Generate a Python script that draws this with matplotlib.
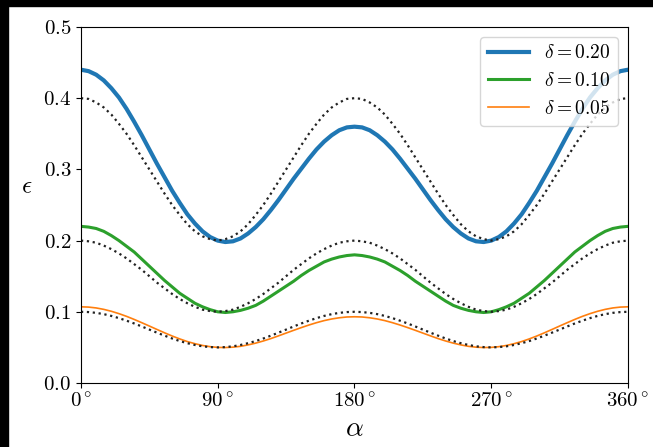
import matplotlib
matplotlib.use("Agg")
import matplotlib.pyplot as plt
from matplotlib.patches import Rectangle

plt.rcParams['mathtext.fontset'] = 'cm'
plt.rcParams['font.family'] = 'serif'
plt.rcParams['font.serif'] = ['cmr10', 'DejaVu Serif']
plt.rcParams['axes.formatter.use_mathtext'] = True

# angle in degrees, every 5 deg
alpha = list(range(0, 361, 5))

eps_020 = [0.440, 0.438, 0.433, 0.425, 0.414, 0.401, 0.385, 0.367, 0.348, 0.328, 0.308, 0.289, 0.270,
           0.253, 0.237, 0.224, 0.213, 0.205, 0.200, 0.198, 0.199, 0.203, 0.210, 0.219, 0.230, 0.243,
           0.257, 0.272, 0.287, 0.301, 0.315, 0.328, 0.339, 0.348, 0.355, 0.359, 0.360,
           0.359, 0.355, 0.348, 0.339, 0.328, 0.315, 0.301, 0.287, 0.272, 0.257, 0.243, 0.230,
           0.219, 0.210, 0.203, 0.199, 0.198, 0.200, 0.205, 0.213, 0.224, 0.237, 0.253, 0.270,
           0.289, 0.308, 0.328, 0.348, 0.367, 0.385, 0.401, 0.414, 0.425, 0.433, 0.438, 0.440]
eps_010 = [0.220, 0.219, 0.217, 0.213, 0.207, 0.200, 0.192, 0.184, 0.174, 0.164, 0.154, 0.144, 0.135,
           0.126, 0.119, 0.112, 0.107, 0.103, 0.100, 0.099, 0.100, 0.102, 0.105, 0.109, 0.115, 0.122,
           0.129, 0.136, 0.143, 0.151, 0.158, 0.164, 0.170, 0.174, 0.177, 0.179, 0.180,
           0.179, 0.177, 0.174, 0.170, 0.164, 0.158, 0.151, 0.143, 0.136, 0.129, 0.122, 0.115,
           0.109, 0.105, 0.102, 0.100, 0.099, 0.100, 0.103, 0.107, 0.112, 0.119, 0.126, 0.135,
           0.144, 0.154, 0.164, 0.174, 0.184, 0.192, 0.200, 0.207, 0.213, 0.217, 0.219, 0.220]
eps_005 = [0.1070, 0.1066, 0.1054, 0.1034, 0.1007, 0.0974, 0.0936, 0.0893, 0.0847, 0.0800, 0.0752,
           0.0705, 0.0660, 0.0619, 0.0582, 0.0552, 0.0527, 0.0510, 0.0500, 0.0498, 0.0503, 0.0515,
           0.0535, 0.0560, 0.0590, 0.0624, 0.0662, 0.0701, 0.0740, 0.0778, 0.0814, 0.0847, 0.0876,
           0.0899, 0.0916, 0.0927, 0.0930,
           0.0927, 0.0916, 0.0899, 0.0876, 0.0847, 0.0814, 0.0778, 0.0740, 0.0701, 0.0662, 0.0624,
           0.0590, 0.0560, 0.0535, 0.0515, 0.0503, 0.0498, 0.0500, 0.0510, 0.0527, 0.0552, 0.0582,
           0.0619, 0.0660, 0.0705, 0.0752, 0.0800, 0.0847, 0.0893, 0.0936, 0.0974, 0.1007, 0.1034,
           0.1054, 0.1066, 0.1070]

# dotted reference curves
ref_020 = [0.400, 0.399, 0.394, 0.387, 0.377, 0.364, 0.350, 0.334, 0.317, 0.300, 0.283, 0.266, 0.250,
           0.236, 0.223, 0.213, 0.206, 0.202, 0.200,
           0.202, 0.206, 0.213, 0.223, 0.236, 0.250, 0.266, 0.283, 0.300, 0.317, 0.334, 0.350, 0.364,
           0.377, 0.387, 0.394, 0.399, 0.400,
           0.399, 0.394, 0.387, 0.377, 0.364, 0.350, 0.334, 0.317, 0.300, 0.283, 0.266, 0.250, 0.236,
           0.223, 0.213, 0.206, 0.202, 0.200,
           0.202, 0.206, 0.213, 0.223, 0.236, 0.250, 0.266, 0.283, 0.300, 0.317, 0.334, 0.350, 0.364,
           0.377, 0.387, 0.394, 0.399, 0.400]
ref_010 = [0.200, 0.199, 0.197, 0.193, 0.188, 0.182, 0.175, 0.167, 0.159, 0.150, 0.141, 0.133, 0.125,
           0.118, 0.112, 0.107, 0.103, 0.101, 0.100,
           0.101, 0.103, 0.107, 0.112, 0.118, 0.125, 0.133, 0.141, 0.150, 0.159, 0.167, 0.175, 0.182,
           0.188, 0.193, 0.197, 0.199, 0.200,
           0.199, 0.197, 0.193, 0.188, 0.182, 0.175, 0.167, 0.159, 0.150, 0.141, 0.133, 0.125, 0.118,
           0.112, 0.107, 0.103, 0.101, 0.100,
           0.101, 0.103, 0.107, 0.112, 0.118, 0.125, 0.133, 0.141, 0.150, 0.159, 0.167, 0.175, 0.182,
           0.188, 0.193, 0.197, 0.199, 0.200]
ref_005 = [0.1000, 0.0996, 0.0985, 0.0967, 0.0942, 0.0911, 0.0875, 0.0836, 0.0794, 0.0750, 0.0707,
           0.0665, 0.0625, 0.0589, 0.0559, 0.0534, 0.0515, 0.0504, 0.0500,
           0.0504, 0.0515, 0.0534, 0.0559, 0.0589, 0.0625, 0.0665, 0.0707, 0.0750, 0.0794, 0.0836,
           0.0875, 0.0911, 0.0942, 0.0967, 0.0985, 0.0996, 0.1000,
           0.0996, 0.0985, 0.0967, 0.0942, 0.0911, 0.0875, 0.0836, 0.0794, 0.0750, 0.0707, 0.0665,
           0.0625, 0.0589, 0.0559, 0.0534, 0.0515, 0.0504, 0.0500,
           0.0504, 0.0515, 0.0534, 0.0559, 0.0589, 0.0625, 0.0665, 0.0707, 0.0750, 0.0794, 0.0836,
           0.0875, 0.0911, 0.0942, 0.0967, 0.0985, 0.0996, 0.1000]

xticks = [0, 90, 180, 270, 360]
xtick_labels = [r'$0^\circ$', r'$90^\circ$', r'$180^\circ$', r'$270^\circ$', r'$360^\circ$']
yticks = [0.0, 0.1, 0.2, 0.3, 0.4, 0.5]
ytick_labels = [r'$0.0$', r'$0.1$', r'$0.2$', r'$0.3$', r'$0.4$', r'$0.5$']

fig = plt.figure(figsize=(6.53, 4.47), dpi=100)
ax = fig.add_axes([0.124, 0.1432, 0.8377, 0.7964])

ax.plot(alpha, eps_020, color='#1f77b4', lw=3, label=r'$\delta = 0.20$')
ax.plot(alpha, eps_010, color='#2ca02c', lw=2.2, label=r'$\delta = 0.10$')
ax.plot(alpha, eps_005, color='#ff7f0e', lw=1.2, label=r'$\delta = 0.05$')
for r in (ref_020, ref_010, ref_005):
    ax.plot(alpha, r, color='#222222', ls=':', lw=1.6)

ax.set_xlim(0, 360)
ax.set_ylim(0, 0.5)
ax.set_xticks(xticks, xtick_labels, fontsize=15)
ax.set_yticks(yticks, ytick_labels, fontsize=15)
ax.set_xlabel(r'$\alpha$', fontsize=20, labelpad=3)
ax.set_ylabel(r'$\epsilon$', fontsize=18, rotation=0, va='center')
ax.yaxis.set_label_coords(-0.1, 0.55)
ax.legend(loc='upper right', fontsize=14, handlelength=2.1)

# black border strips on top and left
fig.patches.append(Rectangle((0, 1 - 6 / 447), 1, 6 / 447, transform=fig.transFigure,
                             color='black', zorder=10))
fig.patches.append(Rectangle((0, 0), 8 / 653, 1, transform=fig.transFigure,
                             color='black', zorder=10))

fig.savefig('out.png', dpi=100)
